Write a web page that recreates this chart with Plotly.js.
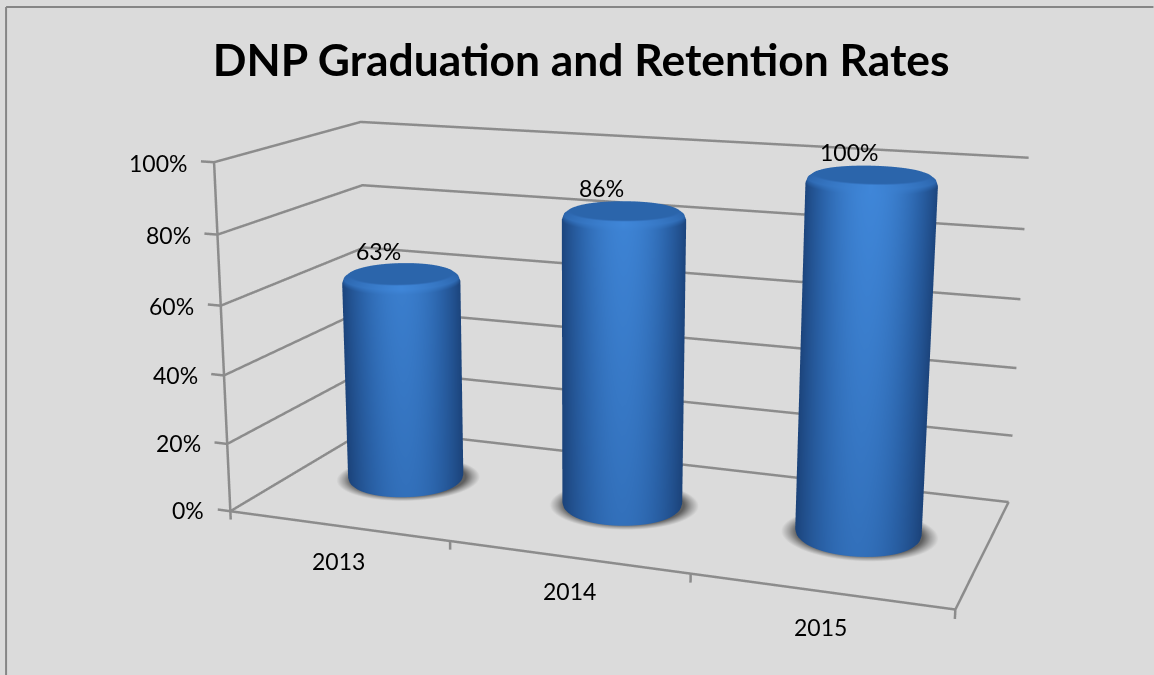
<!DOCTYPE html>
<html><head><meta charset="utf-8"><script src="https://cdn.plot.ly/plotly-3.0.1.min.js"></script>
<style>html,body{margin:0;padding:0;background:#dbdbdb;overflow:hidden;width:1154px;height:675px}#g{position:absolute}svg text{font-variant-ligatures:none}</style></head>
<body><div id="g"></div>
<script>
const categories=['2013','2014','2015'];
const values=[63,86,100];
const valueLabels=['63%','86%','100%'];
const zTicks=[0,20,40,60,80,100];
const zTickLabels=['0%','20%','40%','60%','80%','100%'];
const xr=[-0.6,3.1],yr=[-0.5,1.05],zr=[-12,118];
const W=1154,H=675;
const eye=[1.4990,-3.7142,1.0071],center=[0.1480,-0.1695,0.0519],up=[0.0120,-0.0222,1],asp=[2,1.0620,1.0257],S=2.3495;
const GW=W*S,GH=H*S,GL=(W-GW)/2,GT=(H-GH)/2;
const gdiv=document.getElementById('g');gdiv.style.left=GL+'px';gdiv.style.top=GT+'px';
const px=v=>(v-GL)/GW, py=v=>1-(v-GT)/GH;
function world(a,p){return [(p[0]-(xr[0]+xr[1])/2)/(xr[1]-xr[0])*a[0],(p[1]-(yr[0]+yr[1])/2)/(yr[1]-yr[0])*a[1],(p[2]-(zr[0]+zr[1])/2)/(zr[1]-zr[0])*a[2]]}
const grid='#8c8c8c';
const data=[];
function line(x,y,z){data.push({type:'scatter3d',mode:'lines',x,y,z,line:{color:grid,width:5},hoverinfo:'skip',showlegend:false})}
zTicks.forEach(t=>{line([-0.06,0,0,3],[0,0,1,1],[t,t,t,t])});
line([0,0],[0,0],[0,100]);line([0,0],[0,1],[0,0]);line([0,3,3],[0,0,1],[0,0,0]);
[0,1,2,3].forEach(t=>line([t,t],[0,0],[0,-2.5]));
const R=0.25,Ry=R*(asp[0]/(xr[1]-xr[0]))/(asp[1]/(yr[1]-yr[0]));
const ramp=[[0,'#173a6d'],[0.55,'#2a62a8'],[1,'#3f86d8']];
const shadow=[[0,'#5f5f5f'],[0.5,'#9a9a9a'],[1,'#dbdbdb']];
const thetaN=96;
const theta=[];for(let i=0;i<=thetaN;i++)theta.push(i/thetaN*2*Math.PI);
const flat={ambient:1,diffuse:0,specular:0,roughness:1,fresnel:0};
values.forEach((v,i)=>{
 const cx=i+0.5,cy=0.5;
 const wc=world(asp,[cx,cy,0]);const vt=Math.atan2(eye[1]-wc[1],eye[0]-wc[0]);
 const profile=[[0,v],[0.85,v],[0.9,v-0.3],[0.97,v-1.2],[1,v-2.6],[1,v*0.75],[1,v*0.5],[1,v*0.25],[1,1.5],[0.985,0.6],[0.95,0]];
 const X=[],Y=[],Z=[],C=[];
 profile.forEach(([r,z],pi)=>{const xx=[],yy=[],zz=[],cc=[];theta.forEach(t=>{
  xx.push(cx+R*r*Math.cos(t));yy.push(cy+Ry*r*Math.sin(t));zz.push(z);
  const u=Math.abs(Math.sin(t-vt));
  let s;
  if(pi<2)s=0.58;
  else if(pi<4)s=0.58+0.42*Math.max(0,Math.cos(t-vt))*(1-0.5*u);
  else s=(1-0.85*Math.pow(u,1.9))*(0.72+0.28*z/100);
  cc.push(s)});X.push(xx);Y.push(yy);Z.push(zz);C.push(cc)});
 data.push({type:'surface',x:X,y:Y,z:Z,surfacecolor:C,colorscale:ramp,cmin:0,cmax:1,showscale:false,hoverinfo:'skip',lighting:flat});
 const SX=[],SY=[],SZ=[],SC=[];
 [0.9,1,1.12,1.25].forEach((r,k)=>{SX.push(theta.map(t=>cx+R*r*Math.cos(t)));SY.push(theta.map(t=>cy+0.02+Ry*r*Math.sin(t)));SZ.push(theta.map(t=>0.05));SC.push(theta.map(t=>[0,0,0.55,1][k]))});
 data.push({type:'surface',x:SX,y:SY,z:SZ,surfacecolor:SC,colorscale:shadow,cmin:0,cmax:1,showscale:false,hoverinfo:'skip',lighting:flat});
});
const font={family:'Lato, Carlito, sans-serif',size:23,color:'#000'};
const ann=[];
zTicks.forEach((t,i)=>ann.push({x:-0.1,y:0,z:t,text:zTickLabels[i],showarrow:false,xanchor:'right',yanchor:'middle',xshift:-3,yshift:-2,font}));
const catShift=[[0,-3],[-5,1],[-13,1]];
categories.forEach((c,i)=>ann.push({x:i+0.6,y:-0.15,z:-4,text:c,showarrow:false,xshift:catShift[i][0],yshift:catShift[i][1],font}));
values.forEach((v,i)=>ann.push({x:i+0.5,y:0.5,z:v,text:valueLabels[i],showarrow:false,xshift:-23,yshift:22,font}));
const shapes=[];
shapes.push({type:'line',xref:'paper',yref:'paper',x0:px(6.5),x1:px(1154),y0:py(6.5),y1:py(6.5),line:{color:'#868686',width:2}});
shapes.push({type:'line',xref:'paper',yref:'paper',x0:px(6.5),x1:px(6.5),y0:py(6.5),y1:py(675),line:{color:'#868686',width:2}});
const layout={width:GW,height:GH,margin:{l:0,r:0,t:0,b:0},paper_bgcolor:'#dbdbdb',
 title:{text:'<b>DNP Graduation and Retention Rates</b>',font:{family:'Lato, sans-serif',size:44.4,color:'#000'},x:px(581.5),xanchor:'center',y:py(60),yanchor:'middle'},
 shapes,showlegend:false,
 scene:{domain:{x:[0,1],y:[0,1]},aspectmode:'manual',aspectratio:{x:asp[0],y:asp[1],z:asp[2]},
  camera:{eye:{x:eye[0],y:eye[1],z:eye[2]},center:{x:center[0],y:center[1],z:center[2]},up:{x:up[0],y:up[1],z:up[2]}},
  xaxis:{visible:false,range:xr},yaxis:{visible:false,range:yr},zaxis:{visible:false,range:zr},annotations:ann}};
Plotly.newPlot('g',data,layout,{displayModeBar:false});
</script></body></html>
